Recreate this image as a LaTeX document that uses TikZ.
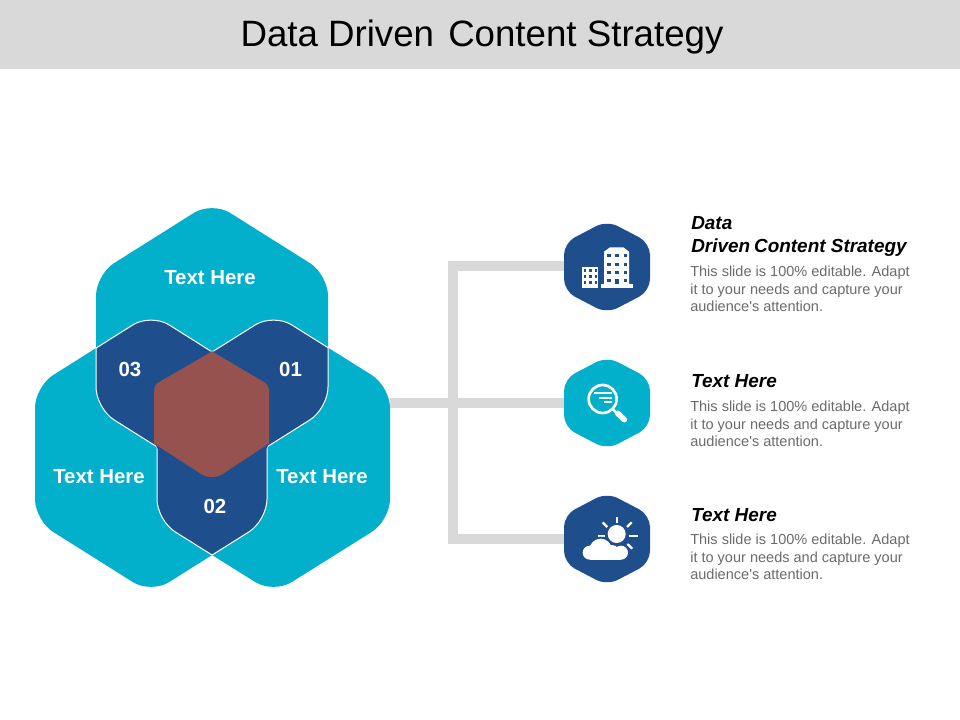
\documentclass[tikz,border=0pt]{standalone}
\usepackage{fontspec}
\setmainfont{Liberation Sans}
\newfontfamily\plainfont{Liberation Sans}
\definecolor{teal1}{HTML}{03B0CB}
\definecolor{navy1}{HTML}{1F4E8C}
\definecolor{brick}{HTML}{96524F}
\definecolor{band}{HTML}{D9D9D9}
\definecolor{bodygray}{HTML}{6B6B6B}
% hexagon: centre x, centre y, half width, half height, corner offset
\def\hx#1#2#3#4#5{([shift={(#1,#2)}]-#3,0) -- ([shift={(#1,#2)}]-#3,-#5) -- ([shift={(#1,#2)}]0,-#4) -- ([shift={(#1,#2)}]#3,-#5) -- ([shift={(#1,#2)}]#3,#5) -- ([shift={(#1,#2)}]0,#4) -- ([shift={(#1,#2)}]-#3,#5) -- cycle}
\def\hT{\hx{212}{341.5}{116}{140}{67}}
\def\hL{\hx{151}{453.5}{116}{140}{67}}
\def\hR{\hx{273.5}{453.5}{116.5}{140}{67}}
\tikzset{
  big/.style={rounded corners=16pt},
  small/.style={rounded corners=9pt},
  conn/.style={draw=band,line width=7.5pt},
  lbl/.style={text=white,font=\bfseries\fontsize{15.3}{17}\selectfont,inner sep=0pt},
  head/.style={anchor=north west,inner sep=0pt,align=left,font=\bfseries\itshape\fontsize{14.2}{17.25}\selectfont,text=black},
  desc/.style={anchor=north west,inner sep=0pt,align=left,text=bodygray,font=\plainfont\fontsize{10.9}{13.1}\selectfont},
  iconslot/.style={minimum width=64.5pt,minimum height=64.5pt,inner sep=0pt},
  wht/.style={draw=white,line width=0.75pt},
}
\newcommand{\pairregion}[2]{%
  \begin{scope}\path[clip,big] #1;\fill[navy1,big] #2;\draw[wht,big] #2;\end{scope}%
  \begin{scope}\path[clip,big] #2;\draw[wht,big] #1;\end{scope}}
\newcommand{\innerfix}[3]{%
  \begin{scope}\path[clip,big] #1;\path[clip,big] #2;\draw[navy1,line width=1.5pt,big] #3;\end{scope}}
\begin{document}
\begin{tikzpicture}[x=0.75pt,y=-0.75pt]
\useasboundingbox (0,0) rectangle (960,720);
\fill[white] (0,0) rectangle (960,720);
\fill[band] (0,0) rectangle (960,69);
\node[inner sep=0pt,font=\fontsize{27.5}{30}\selectfont,text=black] (title) at (482,37) {Data Driven\hspace{3pt} Content Strategy};

% icon slots
\node[iconslot] (icon1) at (607,266.5) {};
\node[iconslot] (icon2) at (607,403) {};
\node[iconslot] (icon3) at (607,539) {};
\coordinate (hub) at (390,403);
\coordinate (trunkT) at (452.5,266.5);
\coordinate (trunkB) at (452.5,539);

% connectors
\draw[conn] (hub) -- (icon2.center);
\draw[conn,line cap=rect] (icon1.center) -- (trunkT) -- (trunkB) -- (icon3.center);

% venn hexagons
\fill[teal1,big] \hT;
\fill[teal1,big] \hL;
\fill[teal1,big] \hR;
\pairregion{\hT}{\hR}
\pairregion{\hT}{\hL}
\pairregion{\hL}{\hR}
\innerfix{\hT}{\hR}{\hL}
\innerfix{\hT}{\hL}{\hR}
\innerfix{\hL}{\hR}{\hT}
\fill[brick] (212,351.5) [rounded corners=4pt] -- (154,385) -- (154,443) [rounded corners=0pt] -- (154,443.5) [rounded corners=9pt] -- (212,481) [rounded corners=0pt] -- (269,443.5) [rounded corners=4pt] -- (269,443) -- (269,385) [rounded corners=0pt] -- (212,351.5) -- cycle;
\node[lbl] (t1) at (210,278) {Text Here};
\node[lbl] (t2) at (99,477) {Text Here};
\node[lbl] (t3) at (322,477) {Text Here};
\node[lbl] (n1) at (290.5,369) {01};
\node[lbl] (n2) at (215,506) {02};
\node[lbl] (n3) at (130,369) {03};

% icon hexagons
\fill[navy1,small] \hx{607}{267}{43}{46.5}{24};
\fill[teal1,small] \hx{607}{403}{43}{46.5}{24};
\fill[navy1,small] \hx{607}{539}{43}{46.5}{24};

% building icon
\begin{scope}[shift={(555,215)},scale=1/3]
  \fill[white] (147,215) -- (147,110) -- (165,97) -- (205,97) -- (222,110) -- (222,215) -- cycle;
  \fill[white] (138,208) rectangle (233,218);
  \fill[white] (80,155) rectangle (130,218);
  \foreach \x in {156,181,206}
    \foreach \y in {118,143,168}
      \fill[navy1] (\x,\y) rectangle ++(11,9);
  \foreach \x in {156,206}
    \fill[navy1] (\x,193) rectangle ++(11,9);
  \fill[navy1] (181,191) rectangle (192,208);
  \foreach \x in {87,103,119}
    \foreach \y in {162,180,199}
      \fill[navy1] (\x,\y) rectangle ++(7,8);
\end{scope}

% magnifier icon
\begin{scope}[shift={(555,350)},scale=1/3]
  \draw[white,line width=2pt] (143,147) circle (42);
  \draw[white,line width=1.8pt] (174,178) -- (186,190);
  \draw[white,line width=4.2pt,line cap=round] (188,190) -- (208,209);
  \draw[white,line width=1.5pt] (118,130) -- (170,130);
  \draw[white,line width=1.5pt] (133,143) -- (170,143);
  \draw[white,line width=1.5pt] (147,155) -- (170,155);
\end{scope}

% sun and cloud icon
\begin{scope}[shift={(555,488)},scale=1/3]
  \fill[white] (185,138) circle (27);
  \draw[white,line width=1.7pt] (185,88) -- (185,106);
  \draw[white,line width=1.7pt] (143,103) -- (157,117);
  \draw[white,line width=1.7pt] (230,103) -- (216,117);
  \draw[white,line width=1.7pt] (222,143) -- (248,143);
  \draw[white,line width=1.7pt] (128,143) -- (150,143);
  \draw[white,line width=1.7pt] (217,168) -- (232,182);
  \foreach \cx/\cy/\rr in {137/186/34,104/194/21,198/194/21,170/196/25}
    \fill[navy1] (\cx,\cy) circle (\rr+6);
  \begin{scope}
    \clip (70,140) rectangle (235,215);
    \foreach \cx/\cy/\rr in {137/186/34,104/194/21,198/194/21,170/196/25}
      \fill[white] (\cx,\cy) circle (\rr);
    \fill[white] (104,190) rectangle (198,215);
  \end{scope}
\end{scope}

% right-hand texts
\node[head] (h1) at (691,216) {Data\\Driven\hspace{-1pt} Content Strategy};
\node[desc] (d1) at (690,266) {This slide is 100\% editable. Adapt\\it to your needs and capture your\\audience's attention.};
\node[head] (h2) at (691,374) {Text Here};
\node[desc] (d2) at (690,401) {This slide is 100\% editable. Adapt\\it to your needs and capture your\\audience's attention.};
\node[head] (h3) at (691,508) {Text Here};
\node[desc] (d3) at (690,534) {This slide is 100\% editable. Adapt\\it to your needs and capture your\\audience's attention.};
\end{tikzpicture}
\end{document}
